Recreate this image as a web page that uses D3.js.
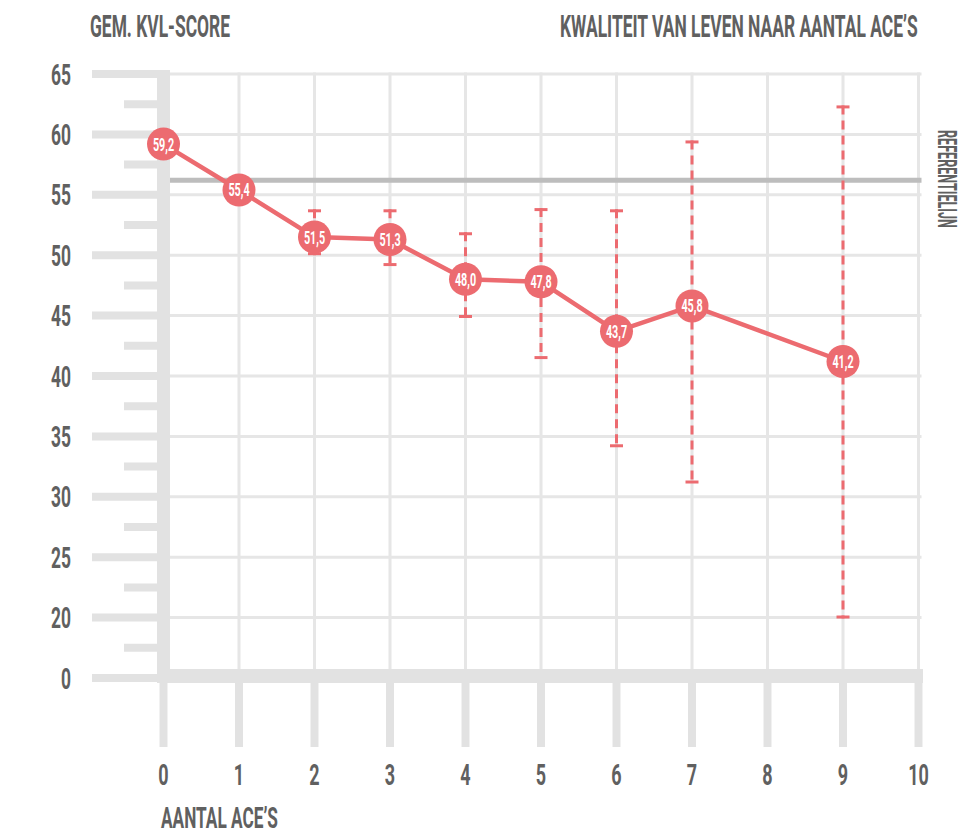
<!DOCTYPE html>
<html>
<head>
<meta charset="utf-8">
<script src="https://cdn.jsdelivr.net/npm/d3@7"></script>
<style>
    body { margin: 0; background: #fff; }
    text { font-family: Roboto, "Liberation Sans", sans-serif; font-weight: 700; }
</style>
</head>
<body>
<div id="chart-ctn"></div>
<script>
// Data
let aces = [0, 1, 2, 3, 4, 5, 6, 7, 9];
let meanScores = [59.2, 55.4, 51.5, 51.3, 48.0, 47.8, 43.7, 45.8, 41.2];
let errLow = [null, 54.3, 50.0, 49.1, 44.8, 41.4, 34.1, 31.1, 19.7];
let errHigh = [null, 56.5, 53.8, 53.8, 51.9, 53.9, 53.8, 59.5, 62.4];
let referenceScore = 56.2;

// Tick labels
let xTicks = [0, 1, 2, 3, 4, 5, 6, 7, 8, 9, 10];
let yTicks = [65, 60, 55, 50, 45, 40, 35, 30, 25, 20, 0];
let yMinorTicks = [62.5, 57.5, 52.5, 47.5, 42.5, 37.5, 32.5, 27.5, 22.5, 10];

let titleLeft = "GEM. KVL-SCORE";
let titleRight = "KWALITEIT VAN LEVEN NAAR AANTAL ACE\u2019S";
let xLabel = "AANTAL ACE\u2019S";
let refLabel = "REFERENTIELIJN";

let width = 964;
let height = 836;

let pink = "#ec6b70";
let grid = "#e6e6e6";
let axisGrey = "#e2e2e2";
let textGrey = "#606060";

let fmt = d3.formatLocale({ decimal: ",", thousands: ".", grouping: [3], currency: ["€", ""] }).format(".1f");

let svg = d3.select("#chart-ctn")
    .append("svg")
    .attr("width", width)
    .attr("height", height);

// scales (broken axis between 0 and 20)
let x = d3.scaleLinear().domain([0, 10]).range([163.5, 918.5]);
let y = d3.scaleLinear().domain([0, 20, 65]).range([678, 617.6, 74]);

// condensed text: fixed horizontal squeeze
function condText(sel, px, py, str, size, anchor, k) {
    return sel.append("text")
        .attr("transform", `translate(${px},${py}) scale(${k},1)`)
        .attr("text-anchor", anchor)
        .attr("font-size", size)
        .attr("fill", textGrey)
        .text(str);
}

// condensed text squeezed to a given width
function fitText(sel, px, py, str, size, w, rot) {
    let t = sel.append("text")
        .attr("font-size", size)
        .attr("fill", textGrey)
        .text(str);
    let k = w / t.node().getComputedTextLength();
    t.attr("transform", `translate(${px},${py})${rot ? " rotate(" + rot + ")" : ""} scale(${k},1)`);
    return t;
}

// horizontal grid lines
svg.append("g")
    .selectAll("line")
    .data(yTicks.filter((d) => d >= 20))
    .join("line")
    .attr("x1", x(0) + 6)
    .attr("x2", x(10) + 3)
    .attr("y1", (d) => y(d))
    .attr("y2", (d) => y(d))
    .attr("stroke", grid)
    .attr("stroke-width", 3);

// vertical grid lines
svg.append("g")
    .selectAll("line")
    .data(xTicks.filter((d) => d > 0))
    .join("line")
    .attr("x1", (d) => x(d))
    .attr("x2", (d) => x(d))
    .attr("y1", y(65) - 1.5)
    .attr("y2", y(0))
    .attr("stroke", grid)
    .attr("stroke-width", 3);

// reference line
svg.append("line")
    .attr("x1", x(0) + 6)
    .attr("x2", x(10) + 3)
    .attr("y1", y(referenceScore))
    .attr("y2", y(referenceScore))
    .attr("stroke", "#bdbdbd")
    .attr("stroke-width", 5);

// y axis: thick bar + ticks
svg.append("rect")
    .attr("x", x(0) - 6.5)
    .attr("y", y(65) - 4)
    .attr("width", 13)
    .attr("height", y(0) - y(65) + 9)
    .attr("fill", axisGrey);

svg.append("g")
    .selectAll("line")
    .data(yTicks)
    .join("line")
    .attr("x1", 92)
    .attr("x2", x(0) - 6.5)
    .attr("y1", (d) => y(d))
    .attr("y2", (d) => y(d))
    .attr("stroke", axisGrey)
    .attr("stroke-width", 8);

svg.append("g")
    .selectAll("line")
    .data(yMinorTicks)
    .join("line")
    .attr("x1", 124)
    .attr("x2", x(0) - 6.5)
    .attr("y1", (d) => y(d))
    .attr("y2", (d) => y(d))
    .attr("stroke", axisGrey)
    .attr("stroke-width", 8);

yTicks.forEach((t) => {
    condText(svg, 71, y(t) + 10.5, t, 29, "end", 0.6);
});

// x axis: thick bar + ticks
svg.append("rect")
    .attr("x", x(0) - 6.5)
    .attr("y", y(0) - 9)
    .attr("width", x(10) - x(0) + 11)
    .attr("height", 14)
    .attr("fill", axisGrey);

svg.append("g")
    .selectAll("line")
    .data(xTicks)
    .join("line")
    .attr("x1", (d) => x(d))
    .attr("x2", (d) => x(d))
    .attr("y1", y(0) + 5)
    .attr("y2", 747)
    .attr("stroke", axisGrey)
    .attr("stroke-width", 8);

xTicks.forEach((t) => {
    condText(svg, x(t), 785, t, 30, "middle", 0.6);
});

// titles
fitText(svg, 90, 37, titleLeft, 31, 140);
fitText(svg, 560, 37, titleRight, 31, 358);
fitText(svg, 161, 828, xLabel, 30, 117);

// reference label, rotated
fitText(svg, 938, 130, refLabel, 25, 98, 90);

// error bars
let errData = aces.map((a, i) => ({ a: a, lo: errLow[i], hi: errHigh[i] }))
    .filter((d) => d.lo != null);

let eb = svg.append("g")
    .attr("stroke", pink)
    .attr("stroke-width", 3);

eb.selectAll(".stem")
    .data(errData)
    .join("line")
    .attr("class", "stem")
    .attr("x1", (d) => x(d.a))
    .attr("x2", (d) => x(d.a))
    .attr("y1", (d) => y(d.hi))
    .attr("y2", (d) => y(d.lo))
    .attr("stroke-dasharray", "9 6");

eb.selectAll(".cap-hi")
    .data(errData)
    .join("line")
    .attr("class", "cap-hi")
    .attr("x1", (d) => x(d.a) - 6.5)
    .attr("x2", (d) => x(d.a) + 6.5)
    .attr("y1", (d) => y(d.hi) + 1.5)
    .attr("y2", (d) => y(d.hi) + 1.5);

eb.selectAll(".cap-lo")
    .data(errData)
    .join("line")
    .attr("class", "cap-lo")
    .attr("x1", (d) => x(d.a) - 6.5)
    .attr("x2", (d) => x(d.a) + 6.5)
    .attr("y1", (d) => y(d.lo) - 1.5)
    .attr("y2", (d) => y(d.lo) - 1.5);

// mean line
let points = aces.map((a, i) => ({ a: a, v: meanScores[i] }));

svg.append("path")
    .datum(points)
    .attr("fill", "none")
    .attr("stroke", pink)
    .attr("stroke-width", 4.5)
    .attr("stroke-linejoin", "round")
    .attr("d", d3.line().x((d) => x(d.a)).y((d) => y(d.v)));

svg.append("g")
    .selectAll("circle")
    .data(points)
    .join("circle")
    .attr("cx", (d) => x(d.a))
    .attr("cy", (d) => y(d.v))
    .attr("r", 16.5)
    .attr("fill", pink);

points.forEach((d) => {
    condText(svg, x(d.a), y(d.v) + 6.5, fmt(d.v), 18, "middle", 0.6)
        .attr("fill", "#fff");
});
</script>
</body>
</html>
